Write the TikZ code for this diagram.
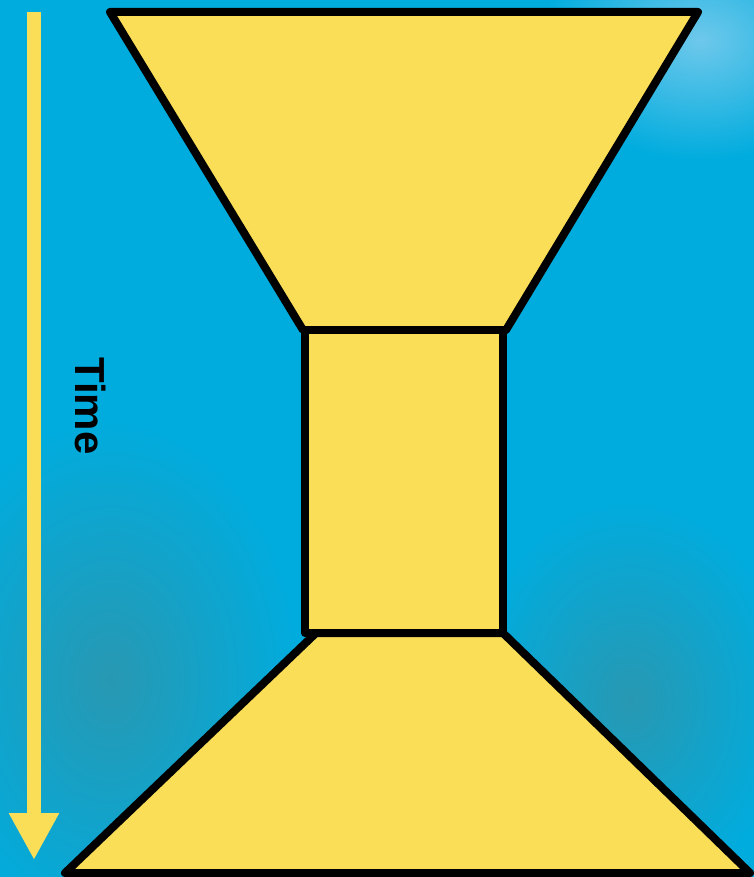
\documentclass[tikz,border=0pt]{standalone}
\usepackage{fontspec}
\setmainfont{Liberation Sans}
\usepackage{xcolor}
\usepackage{tikz}
\usetikzlibrary{arrows.meta}

\definecolor{skyblue}{RGB}{0,172,222}
\definecolor{tealblue}{RGB}{40,152,178}
\definecolor{paleblue}{RGB}{110,200,235}
\definecolor{sandyellow}{RGB}{250,222,88}

\begin{document}
\begin{tikzpicture}[x=1pt, y=-1pt, line join=round]
  \useasboundingbox (0,0) rectangle (754,877);

  % background, soft patches
  \fill[skyblue] (0,0) rectangle (754,877);
  \shade[inner color=tealblue, outer color=skyblue] (110,680) ellipse (190pt and 260pt);
  \shade[inner color=tealblue, outer color=skyblue] (630,700) ellipse (160pt and 200pt);
  \shade[inner color=paleblue, outer color=skyblue] (700,40) ellipse (160pt and 120pt);

  % hourglass
  \draw[line width=8pt, fill=sandyellow] (110,12) -- (698,12) -- (506,330) -- (303,330) -- cycle;
  \draw[line width=8pt, fill=sandyellow] (305,330) rectangle (503,633);
  \draw[line width=8pt, fill=sandyellow] (316,633) -- (503,633) -- (750,873) -- (65,873) -- cycle;

  % time axis
  \coordinate (start) at (34,12);
  \coordinate (stop) at (34,860);
  \draw[sandyellow, line width=14pt, -{Triangle[width=47pt, length=47pt]}] (start) -- (stop);
  \node[rotate=-90, font=\bfseries\fontsize{42}{42}\selectfont] (time) at (91,406) {Time};
\end{tikzpicture}
\end{document}
